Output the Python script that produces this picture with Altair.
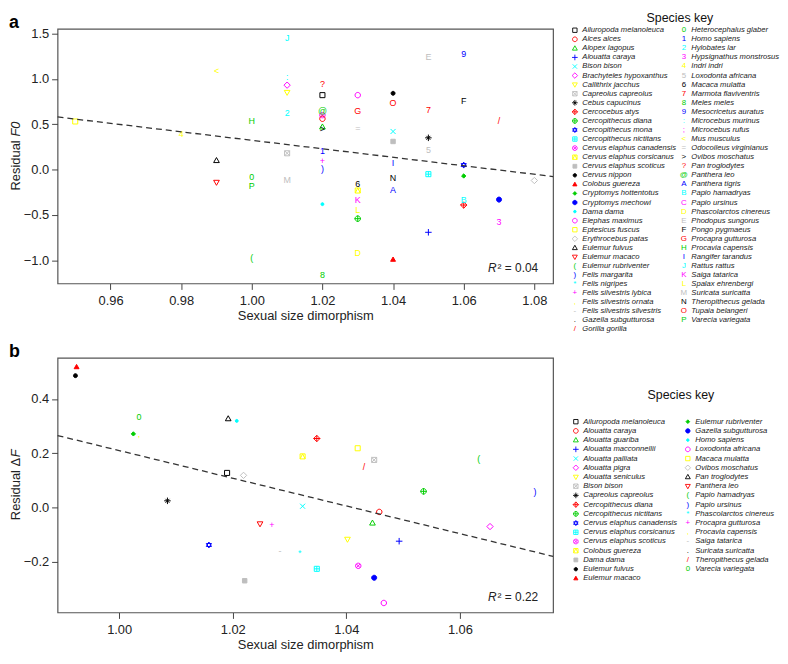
import altair as alt
import pandas as pd

PALETTE = ["#000000", "#FF0000", "#00CD00", "#0000FF", "#00FFFF", "#FF00FF", "#FFFF00", "#BEBEBE"]
FONT = "Liberation Sans"

# ---------------- species keys (order defines symbol + colour) ----------------
species_a = [
    "Ailuropoda melanoleuca", "Alces alces", "Alopex lagopus", "Alouatta caraya", "Bison bison",
    "Brachyteles hypoxanthus", "Callithrix jacchus", "Capreolus capreolus", "Cebus capucinus",
    "Cercocebus atys", "Cercopithecus diana", "Cercopithecus mona", "Cercopithecus nictitans",
    "Cervus elaphus canadensis", "Cervus elaphus corsicanus", "Cervus elaphus scoticus",
    "Cervus nippon", "Colobus guereza", "Cryptomys hottentotus", "Cryptomys mechowi", "Dama dama",
    "Elephas maximus", "Eptesicus fuscus", "Erythrocebus patas", "Eulemur fulvus", "Eulemur macaco",
    "Eulemur rubriventer", "Felis margarita", "Felis nigripes", "Felis silvestris lybica",
    "Felis silvestris ornata", "Felis silvestris silvestris", "Gazella subgutturosa", "Gorilla gorilla",
    "Heterocephalus glaber", "Homo sapiens", "Hylobates lar", "Hypsignathus monstrosus", "Indri indri",
    "Loxodonta africana", "Macaca mulatta", "Marmota flaviventris", "Meles meles",
    "Mesocricetus auratus", "Microcebus murinus", "Microcebus rufus", "Mus musculus",
    "Odocoileus virginianus", "Ovibos moschatus", "Pan troglodytes", "Panthera leo",
    "Panthera tigris", "Papio hamadryas", "Papio ursinus", "Phascolarctos cinereus",
    "Phodopus sungorus", "Pongo pygmaeus", "Procapra gutturosa", "Procavia capensis",
    "Rangifer tarandus", "Rattus rattus", "Saiga tatarica", "Spalax ehrenbergi",
    "Suricata suricatta", "Theropithecus gelada", "Tupaia belangeri", "Varecia variegata"]

species_b = [
    "Ailuropoda melanoleuca", "Alouatta caraya", "Alouatta guariba", "Alouatta macconnellii",
    "Alouatta palliata", "Alouatta pigra", "Alouatta seniculus", "Bison bison",
    "Capreolus capreolus", "Cercopithecus diana", "Cercopithecus nictitans",
    "Cervus elaphus canadensis", "Cervus elaphus corsicanus", "Cervus elaphus scoticus",
    "Colobus guereza", "Dama dama", "Eulemur fulvus", "Eulemur macaco",
    "Eulemur rubriventer", "Gazella subgutturosa", "Homo sapiens", "Loxodonta africana",
    "Macaca mulatta", "Ovibos moschatus", "Pan troglodytes", "Panthera leo", "Papio hamadryas",
    "Papio ursinus", "Phascolarctos cinereus", "Procapra gutturosa", "Procavia capensis",
    "Saiga tatarica", "Suricata suricatta", "Theropithecus gelada", "Varecia variegata"]

# ---------------- panel a data ----------------
a_names = [
    "Eptesicus fuscus", "Indri indri", "Mus musculus", "Eulemur fulvus", "Eulemur macaco",
    "Procavia capensis", "Heterocephalus glaber", "Varecia variegata", "Eulemur rubriventer",
    "Rattus rattus", "Microcebus murinus", "Brachyteles hypoxanthus", "Callithrix jacchus",
    "Hylobates lar", "Capreolus capreolus", "Suricata suricatta",
    "Pan troglodytes", "Ailuropoda melanoleuca", "Panthera leo", "Cervus elaphus canadensis",
    "Alces alces", "Alopex lagopus", "Ovibos moschatus", "Homo sapiens", "Felis silvestris lybica",
    "Felis margarita", "Dama dama", "Meles meles",
    "Elephas maximus", "Procapra gutturosa", "Odocoileus virginianus", "Macaca mulatta",
    "Cervus elaphus corsicanus", "Saiga tatarica", "Spalax ehrenbergi", "Cercopithecus diana",
    "Phascolarctos cinereus",
    "Cervus nippon", "Tupaia belangeri", "Bison bison", "Cervus elaphus scoticus",
    "Rangifer tarandus", "Theropithecus gelada", "Panthera tigris", "Colobus guereza",
    "Phodopus sungorus", "Marmota flaviventris", "Cebus capucinus", "Loxodonta africana",
    "Cercopithecus nictitans", "Alouatta caraya",
    "Mesocricetus auratus", "Pongo pygmaeus", "Cercopithecus mona", "Cryptomys hottentotus",
    "Papio hamadryas", "Cercocebus atys",
    "Gorilla gorilla", "Cryptomys mechowi", "Hypsignathus monstrosus",
    "Erythrocebus patas"]
a_x = [0.95, 0.98, 0.99, 0.99, 0.99,
       1.00, 1.00, 1.00, 1.00,
       1.01, 1.01, 1.01, 1.01, 1.01, 1.01, 1.01,
       1.02, 1.02, 1.02, 1.02, 1.02, 1.02, 1.02, 1.02, 1.02, 1.02, 1.02, 1.02,
       1.03, 1.03, 1.03, 1.03, 1.03, 1.03, 1.03, 1.03, 1.03,
       1.04, 1.04, 1.04, 1.04, 1.04, 1.04, 1.04, 1.04,
       1.05, 1.05, 1.05, 1.05, 1.05, 1.05,
       1.06, 1.06, 1.06, 1.06, 1.06, 1.06,
       1.07, 1.07, 1.07,
       1.08]
a_y = [0.53, 0.39, 1.08, 0.10, -0.14,
       0.53, -0.08, -0.18, -0.97,
       1.45, 1.02, 0.93, 0.85, 0.62, 0.18, -0.11,
       0.94, 0.82, 0.65, 0.60, 0.56, 0.47, 0.45, 0.20, 0.10, 0.01, -0.38, -1.16,
       0.82, 0.65, 0.46, -0.16, -0.23, -0.34, -0.44, -0.54, -0.92,
       0.84, 0.73, 0.42, 0.31, 0.07, -0.09, -0.22, -0.99,
       1.24, 0.66, 0.35, 0.22, -0.05, -0.69,
       1.27, 0.75, 0.05, -0.07, -0.33, -0.39,
       0.53, -0.33, -0.58,
       -0.12]
a_fit_x = [0.9450, 1.0853]
a_fit_y = [0.58, -0.076]

# ---------------- panel b data ----------------
b_names = [
    "Eulemur macaco", "Eulemur fulvus", "Varecia variegata", "Eulemur rubriventer",
    "Procavia capensis", "Capreolus capreolus", "Pan troglodytes", "Homo sapiens",
    "Ailuropoda melanoleuca", "Ovibos moschatus", "Panthera leo", "Procapra gutturosa",
    "Cervus elaphus canadensis", "Dama dama", "Saiga tatarica", "Phascolarctos cinereus",
    "Cercopithecus diana", "Colobus guereza", "Macaca mulatta", "Bison bison",
    "Theropithecus gelada", "Cercopithecus nictitans", "Papio hamadryas", "Papio ursinus",
    "Alouatta palliata", "Alouatta caraya", "Alouatta guariba", "Alouatta pigra",
    "Alouatta seniculus", "Alouatta macconnellii", "Cervus elaphus corsicanus",
    "Cervus elaphus scoticus", "Gazella subgutturosa", "Loxodonta africana"]
b_x = [0.9925, 0.9923, 1.0035, 1.0025,
       1.0035, 1.0085, 1.0192, 1.0207,
       1.0190, 1.0219, 1.0248, 1.0269,
       1.0158, 1.0221, 1.0283, 1.0318,
       1.0348, 1.0323, 1.0420, 1.0449,
       1.0431, 1.0536, 1.0633, 1.0732,
       1.0323, 1.0458, 1.0446, 1.0653,
       1.0402, 1.0493, 1.0348,
       1.0421, 1.0449, 1.0466]
b_y = [0.518, 0.486, 0.335, 0.271,
       0.271, 0.024, 0.327, 0.319,
       0.127, 0.118, -0.061, -0.064,
       -0.139, -0.271, -0.160, -0.169,
       0.254, 0.188, 0.218, 0.175,
       0.148, 0.059, 0.178, 0.055,
       0.004, -0.017, -0.058, -0.071,
       -0.118, -0.125, -0.227,
       -0.216, -0.260, -0.353]
b_fit_x = [0.98915, 1.0764]
b_fit_y = [0.265, -0.181]

# ---------------- symbol definitions (R pch 0-25) ----------------
SQ = "M-1,-1L1,-1L1,1L-1,1Z"
CI = "M-1,0A1,1,0,1,0,1,0A1,1,0,1,0,-1,0Z"
TU = "M0,-1.1L1.05,0.75L-1.05,0.75Z"
TD = "M0,1.1L1.05,-0.75L-1.05,-0.75Z"
DI = "M0,-1.25L1.25,0L0,1.25L-1.25,0Z"
PL = "M-1.2,0L1.2,0M0,-1.2L0,1.2"
XX = "M-1,-1L1,1M-1,1L1,-1"
XS = "M-0.72,-0.72L0.72,0.72M-0.72,0.72L0.72,-0.72"
PCH = {
    0: (SQ, 0, 26), 1: (CI, 0, 30), 2: (TU, 0, 30), 3: (PL, 0, 30), 4: (XX, 0, 26),
    5: (DI, 0, 26), 6: (TD, 0, 30), 7: (SQ + XX, 0, 26), 8: (PL + XS, 0, 30),
    9: (DI + "M-1.25,0L1.25,0M0,-1.25L0,1.25", 0, 26), 10: (CI + PL, 0, 30),
    11: ("M0,-1.1L0.95,0.55L-0.95,0.55ZM0,1.1L0.95,-0.55L-0.95,-0.55Z", 0, 30),
    12: (SQ + "M-1,0L1,0M0,-1L0,1", 0, 26), 13: (CI + XS, 0, 30), 14: (SQ + "M-1,1L0,-1L1,1", 0, 26),
    15: (SQ, 1, 20), 16: (CI, 1, 16), 17: (TU, 1, 22), 18: (DI, 1, 12), 19: (CI, 1, 26),
    20: (CI, 1, 9), 21: (CI, 0, 30), 22: (SQ, 0, 26), 23: (DI, 0, 26), 24: (TU, 0, 30), 25: (TD, 0, 30),
}


def glyph(i):
    return None if i < 26 else chr(40 + i - 26)


def point_table(key, names, xs, ys):
    rows = []
    for n, x, y in zip(names, xs, ys):
        i = key.index(n)
        g = glyph(i)
        rec = dict(name=n, x=x, y=y, color=PALETTE[i % 8], ch=g)
        if g is None:
            path, filled, size = PCH[i]
            rec.update(path=path, fo=float(filled), size=size)
        rows.append(rec)
    return pd.DataFrame(rows)


def legend_table(key, ncol1):
    rows = []
    for i, n in enumerate(key):
        col, row = (0, i) if i < ncol1 else (1, i - ncol1)
        g = glyph(i)
        rec = dict(name=n, col=col, row=row, color=PALETTE[i % 8], ch=g)
        if g is None:
            path, filled, size = PCH[i]
            rec.update(path=path, fo=float(filled), size=size * 0.75)
        rows.append(rec)
    return pd.DataFrame(rows)


def text_layer(t, x, y, **kw):
    return alt.Chart(pd.DataFrame({"t": [t]})).mark_text(font=FONT, **kw).encode(
        x=alt.value(x), y=alt.value(y), text="t:N")


def panel(letter, key, ncol1, names, xs, ys, fit_x, fit_y, xdom, ydom, xticks, yticks,
          ytitle_parts, r2, W, H, leg_cols, leg_y0, leg_dy, leg_title_xy):
    pts = point_table(key, names, xs, ys)
    shp = pts[pts["ch"].isna()]
    chs = pts[pts["ch"].notna()]
    X = alt.X("x:Q", scale=alt.Scale(domain=xdom, nice=False, zero=False),
              axis=alt.Axis(values=xticks, format=".2f"), title="Sexual size dimorphism")
    Y = alt.Y("y:Q", scale=alt.Scale(domain=ydom, nice=False, zero=False),
              axis=alt.Axis(values=yticks, format=".1f"), title=None)

    sym = alt.Chart(shp).mark_point(opacity=1, strokeWidth=1).encode(
        x=X, y=Y,
        shape=alt.Shape("path:N", scale=None),
        fill=alt.Fill("color:N", scale=None),
        stroke=alt.Stroke("color:N", scale=None),
        fillOpacity=alt.FillOpacity("fo:Q", scale=None),
        size=alt.Size("size:Q", scale=None))
    txt = alt.Chart(chs).mark_text(font=FONT, fontSize=9, baseline="middle", align="center").encode(
        x=X, y=Y, text="ch:N", color=alt.Color("color:N", scale=None))
    fit = alt.Chart(pd.DataFrame({"x": fit_x, "y": fit_y})).mark_line(
        color="#333333", strokeDash=[6, 4], strokeWidth=1.3).encode(x=X, y=Y)

    r_it = text_layer("R", W - 57, H - 16, fontSize=12, fontStyle="italic", align="right",
                      baseline="middle", color="#222")
    r_rest = text_layer("\u00b2 = " + r2, W - 15, H - 16, fontSize=12, align="right",
                        baseline="middle", color="#222")
    lab = text_layer(letter, -49, -1, fontSize=18, fontWeight="bold", align="left",
                     baseline="alphabetic", color="#000")
    # y-axis title, rotated, with the italic variable
    plain, ital, split, gap = ytitle_parts
    yt1 = text_layer(plain, -42, H / 2 + split, fontSize=13, angle=270, align="right",
                     baseline="middle", color="#222")
    yt2 = text_layer(ital, -42, H / 2 + split - gap, fontSize=13, angle=270, align="left",
                     baseline="middle", fontStyle="italic", color="#222")
    main = alt.layer(sym, txt, fit, r_it, r_rest, lab, yt1, yt2)

    leg = legend_table(key, ncol1)
    nrow = max(ncol1, len(key) - ncol1) - 1
    LX = alt.X("col:Q", scale=alt.Scale(domain=[0, 1], range=leg_cols), axis=None)
    LY = alt.Y("row:Q", scale=alt.Scale(domain=[0, nrow], range=[leg_y0, leg_y0 + nrow * leg_dy]), axis=None)
    lshp = leg[leg["ch"].isna()]
    lchs = leg[leg["ch"].notna()]
    lsym = alt.Chart(lshp).mark_point(opacity=1, strokeWidth=0.9).encode(
        x=LX, y=LY,
        shape=alt.Shape("path:N", scale=None),
        fill=alt.Fill("color:N", scale=None),
        stroke=alt.Stroke("color:N", scale=None),
        fillOpacity=alt.FillOpacity("fo:Q", scale=None),
        size=alt.Size("size:Q", scale=None))
    ltxt = alt.Chart(lchs).mark_text(font=FONT, fontSize=8, baseline="middle", align="center").encode(
        x=LX, y=LY, text="ch:N", color=alt.Color("color:N", scale=None))
    lname = alt.Chart(leg).mark_text(font=FONT, fontSize=7.7, fontStyle="italic", baseline="middle",
                                     align="left", dx=7.5, color="#222").encode(
        x=LX, y=LY, text="name:N")
    ltitle = text_layer("Species key", leg_title_xy[0], leg_title_xy[1], fontSize=12.5,
                        align="center", baseline="middle", color="#111")
    legend = alt.layer(lsym, ltxt, lname, ltitle)

    return alt.layer(main, legend).resolve_scale(x="independent", y="independent").properties(
        width=W, height=H)


W, H = 500, 257
pa = panel("a", species_a, 34, a_names, a_x, a_y, a_fit_x, a_fit_y,
           [0.9450, 1.0853], [-1.253, 1.551],
           [0.96, 0.98, 1.00, 1.02, 1.04, 1.06, 1.08], [-1.0, -0.5, 0.0, 0.5, 1.0, 1.5],
           ("Residual", "F0", -15.9, 3.8), "0.04", W, H, [522, 632], 1.5, 9.15, (628, -10.5))
pb = panel("b", species_b, 18, b_names, b_x, b_y, b_fit_x, b_fit_y,
           [0.98915, 1.0764], [-0.388, 0.552],
           [1.00, 1.02, 1.04, 1.06], [-0.2, 0.0, 0.2, 0.4],
           ("Residual \u0394", "F", -27.5, 0.6), "0.22", W, H, [523, 636], 64.5, 9.3, (629, 38))

chart = alt.VConcatChart(vconcat=[pa, pb], spacing=75, bounds="flush", padding=0).configure_view(
    stroke="#555555", strokeWidth=1.2
).configure_axis(
    labelFont=FONT, titleFont=FONT, labelFontSize=13, titleFontSize=13, titleFontWeight="normal",
    labelColor="#222", titleColor="#222", tickColor="#444", domain=False, grid=False, tickSize=6
).configure_axisX(labelPadding=5, titlePadding=2).configure_axisY(labelPadding=3)

chart.save("out.html", embed_options={"renderer": "svg", "actions": False})
